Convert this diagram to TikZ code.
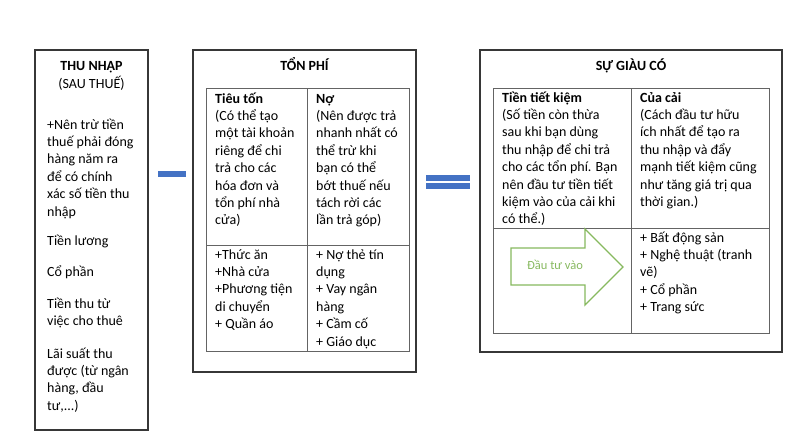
\documentclass[tikz,border=0pt]{standalone}
\usepackage{fontspec}
\setmainfont{Carlito}
\usetikzlibrary{calc}

\definecolor{framegray}{RGB}{55,55,55}
\definecolor{rulegray}{RGB}{100,100,100}
\definecolor{signblue}{RGB}{68,114,196}
\definecolor{investgreen}{RGB}{135,185,95}

\begin{document}
\begin{tikzpicture}[x=1pt, y=-1pt,
    panel/.style={draw=framegray, line width=1.6pt},
    rules/.style={draw=rulegray, line width=0.9pt},
    % multi-line cells: placed at the baseline of their last line
    body/.style={anchor=base west, align=left, inner sep=0pt,
      font=\fontsize{14}{17.4}\selectfont},
    heading/.style={anchor=base, inner sep=0pt,
      font=\bfseries\fontsize{14}{17.4}\selectfont}]

    \useasboundingbox (0,0) rectangle (800,442);
    \fill[white] (0,0) rectangle (800,442);

    % income (after tax)
    \draw[panel] (35,50) rectangle (148,430);
    \node[heading] (income) at (91.5,70) {THU NHẬP};
    \node[body, anchor=base] (aftertax) at (91.5,88) {(SAU THUẾ)};
    \node[body] (taxnote) at (47,216) {+Nên trừ tiền\\thuế phải đóng\\hàng năm ra\\để có chính\\xác số tiền thu\\nhập};
    \node[body] (salary) at (47,245) {Tiền lương};
    \node[body] (shares) at (47,276) {Cổ phần};
    \node[body] (rent) at (47,325.4) {Tiền thu từ\\việc cho thuê};
    \node[body] (interest) at (47,410.2) {Lãi suất thu\\được (từ ngân\\hàng, đầu\\tư,...)};

    % expenses
    \draw[panel] (193,50) rectangle (416,372);
    \node[heading] (expense) at (304.5,70) {TỔN PHÍ};
    \draw[rules] (206,88) rectangle (409,351);
    \draw[rules] (307,88) -- (307,351);
    \draw[rules] (206,245) -- (409,245);
    \node[body] (spending) at (215,224.8) {{\bfseries Tiêu tốn}\\(Có thể tạo\\một tài khoản\\riêng để chi\\trả cho các\\hóa đơn và\\tổn phí nhà\\cửa)};
    \node[body] (debt) at (316,224.8) {{\bfseries Nợ}\\(Nên được trả\\nhanh nhất có\\thể trừ khi\\bạn có thể\\bớt thuế nếu\\tách rời các\\lần trả góp)};
    \node[body] (spendlist) at (215,328.6) {+Thức ăn\\+Nhà cửa\\+Phương tiện\\di chuyển\\+ Quần áo};
    \node[body] (debtlist) at (316,346) {+ Nợ thẻ tín\\dụng\\+ Vay ngân\\hàng\\+ Cầm cố\\+ Giáo dục};

    % wealth
    \draw[panel] (480,50) rectangle (782,352);
    \node[heading] (wealth) at (631,70) {SỰ GIÀU CÓ};
    \draw[rules] (493,88) rectangle (769,333);
    \draw[rules] (631,88) -- (631,333);
    \draw[rules] (493,228) -- (769,228);
    \node[body] (savings) at (502,223.8) {{\bfseries Tiền tiết kiệm}\\(Số tiền còn thừa\\sau khi bạn dùng\\thu nhập để chi trả\\cho các tổn phí. Bạn\\nên đầu tư tiền tiết\\kiệm vào của cải khi\\có thể.)};
    \node[body] (assets) at (640,206.4) {{\bfseries Của cải}\\(Cách đầu tư hữu\\ích nhất để tạo ra\\thu nhập và đẩy\\mạnh tiết kiệm cũng\\như tăng giá trị qua\\thời gian.)};
    \node[body] (assetlist) at (640,311.6) {+ Bất động sản\\+ Nghệ thuật (tranh\\vẽ)\\+ Cổ phần\\+ Trang sức};

    % block arrow
    \draw[investgreen, line width=1.3pt, line join=miter]
      (511,248) -- (585,248) -- (585,229) -- (623,267)
      -- (585,305) -- (585,285) -- (511,285) -- cycle;
    \node[investgreen, inner sep=0pt, font=\fontsize{12.5}{15}\selectfont]
      (invest) at (555,265) {Đầu tư vào};

    % minus and equals signs
    \fill[signblue] (158,171) rectangle (186,176.5);
    \foreach \y in {174.5, 182.5}
      \fill[signblue] (426,\y) rectangle (470,\y+6);

\end{tikzpicture}
\end{document}
